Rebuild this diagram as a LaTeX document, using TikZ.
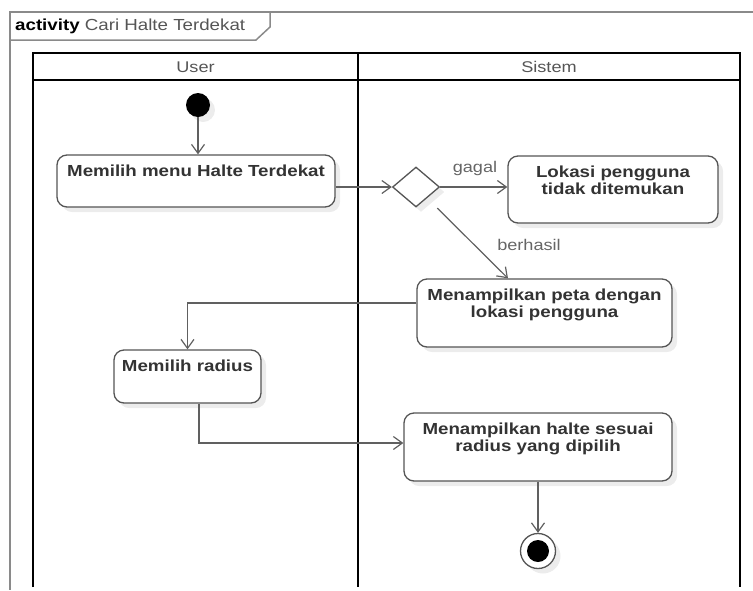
\documentclass[tikz,border=0pt]{standalone}
\usepackage{fontspec}
\setmainfont{Liberation Sans}[FakeStretch=1.17]
\usetikzlibrary{arrows.meta,shapes.geometric,shadows,calc}
\definecolor{frameline}{HTML}{8A8A8A}
\definecolor{boxline}{HTML}{555555}
\definecolor{flowline}{HTML}{606060}
\definecolor{labeltext}{HTML}{666666}
\definecolor{actiontext}{HTML}{333333}
\definecolor{headtext}{HTML}{555555}
\definecolor{shade}{HTML}{ECECEC}

\begin{document}
\begin{tikzpicture}[x=1pt,y=-1pt,
  shadowed/.style={drop shadow={shadow xshift=5pt,shadow yshift=-5pt,fill=shade,opacity=1}},
  action/.style={draw=boxline,line width=1.3pt,rounded corners=10pt,fill=white,
    inner sep=0pt,shadowed},
  acttext/.style={anchor=north,align=center,inner sep=0pt,text=actiontext,
    font=\fontsize{16}{17}\selectfont\bfseries},
  lanetext/.style={inner sep=0pt,text=headtext,font=\fontsize{15.5}{17}\selectfont},
  guard/.style={inner sep=0pt,text=labeltext,font=\fontsize{15.5}{17}\selectfont},
  flow/.style={draw=flowline,line width=1.2pt,
    -{Straight Barb[length=9pt,width=13pt]}},
  lane/.style={draw=black,line width=2pt},
  frame/.style={draw=frameline,line width=1.5pt}]

\useasboundingbox (0,0) rectangle (753,590);

% activity frame and its name tab
\draw[frame] (753,12) -- (10,12) -- (10,590);
\draw[frame] (10,40) -- (256,40) -- (270,27) -- (270,12);
\node[anchor=west,inner sep=0pt,font=\fontsize{16}{17}\selectfont] (title) at (15,26)
  {\textbf{activity} \textcolor{headtext}{Cari Halte Terdekat}};

% swimlanes
\draw[lane] (33,587) -- (33,53) -- (740,53) -- (740,587);
\draw[lane] (33,80) -- (740,80);
\draw[lane] (358,53) -- (358,587);
\node[lanetext] (user) at (195.5,67) {User};
\node[lanetext] (sistem) at (549,67) {Sistem};

% initial and final nodes
\node[circle,fill=black,minimum size=24pt,inner sep=0pt,shadowed] (init) at (198,105) {};
\node[circle,draw=boxline,line width=1.3pt,fill=white,minimum size=35pt,inner sep=0pt,shadowed]
  (final) at (538,551) {};
\node[circle,fill=black,minimum size=22pt,inner sep=0pt] (finaldot) at (final) {};

% actions
\node[action,minimum width=278pt,minimum height=52pt] (a1) at (196,181) {};
\node[acttext] (t1) at ([yshift=-10pt]a1.north) {Memilih menu Halte Terdekat};

\node[diamond,draw=boxline,line width=1.3pt,fill=white,inner sep=0pt,
  minimum width=47pt,minimum height=40pt,shadowed] (dia) at (416,187) {};

\node[action,minimum width=210pt,minimum height=67pt] (a2) at (613,189.5) {};
\node[acttext] (t2) at ([yshift=-10pt]a2.north) {Lokasi pengguna\\tidak ditemukan};

\node[action,minimum width=255pt,minimum height=68pt] (a3) at (544.5,313) {};
\node[acttext] (t3) at ([yshift=-10pt]a3.north) {Menampilkan peta dengan\\lokasi pengguna};

\node[action,minimum width=147pt,minimum height=53pt] (a4) at (187.5,376.5) {};
\node[acttext] (t4) at ([yshift=-10pt]a4.north) {Memilih radius};

\node[action,minimum width=268pt,minimum height=68pt] (a5) at (538,447) {};
\node[acttext] (t5) at ([yshift=-10pt]a5.north) {Menampilkan halte sesuai\\radius yang dipilih};

% control flows
\draw[flow] (init) -- (init |- a1.north);
\draw[flow] (a1.east |- dia.west) -- (dia.west);
\draw[flow] (dia.east) -- (dia.east -| a2.west);
\node[guard] (gagal) at (475,168) {gagal};
\draw[flow,shorten <=30pt] (dia.center) -- ([xshift=-36.5pt]a3.north);
\node[guard] (berhasil) at (529,245) {berhasil};
\draw[flow] ([yshift=10pt]a3.west) -| (a4.north);
\draw[flow] ([xshift=11.5pt]a4.south) |- ([yshift=4pt]a5.west);
\draw[flow] (a5.south) -- (final.north);

\end{tikzpicture}
\end{document}
